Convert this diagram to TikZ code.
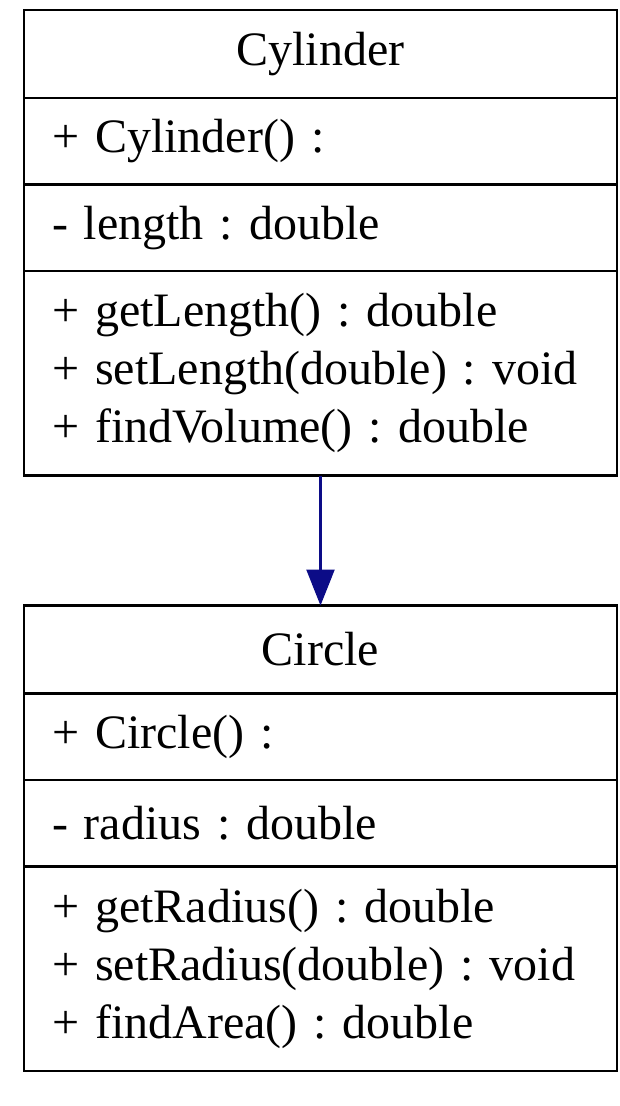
\documentclass[tikz,border=0pt]{standalone}
\usepackage{fontspec}
\setmainfont{Liberation Serif}
\usetikzlibrary{positioning,arrows.meta}
\definecolor{assocblue}{RGB}{12,12,135}

\begin{document}
\begin{tikzpicture}[%
    x=1pt,
    y=1pt,
    node distance=0pt,
    >={Triangle[width=28pt,length=36pt]},
    box/.style={%
      draw,
      line width=2.8pt,
      outer sep=0pt,
      minimum width=593pt,
      text width=537pt,
      inner xsep=28pt,
      font=\fontsize{48}{58}\selectfont\frenchspacing
    },
    title/.style={box, align=center, minimum height=88pt},
    member/.style={box, align=left, minimum height=86.5pt},
    ops/.style={box, align=left, minimum height=204.5pt}
  ]
    \useasboundingbox (0,0) rectangle (619,-1106);

    \node[title]  (cyl)      at (320.5,-54)     {Cylinder};
    \node[member] (cylctor)  [below=of cyl]     {+ Cylinder() :};
    \node[member] (cylattr)  [below=of cylctor] {- length : double};
    \node[ops]    (cylops)   [below=of cylattr] {+ getLength() : double\\
                                                 + setLength(double) : void\\
                                                 + findVolume() : double};

    \node[title]  (circ)     [node distance=130pt,below=of cylops] {Circle};
    \node[member] (circctor) [below=of circ]     {+ Circle() :};
    \node[member] (circattr) [below=of circctor] {- radius : double};
    \node[ops]    (circops)  [below=of circattr] {+ getRadius() : double\\
                                                  + setRadius(double) : void\\
                                                  + findArea() : double};

    \draw[->, assocblue, line width=2.5pt] (cylops) -- (circ);
  \end{tikzpicture}
\end{document}
